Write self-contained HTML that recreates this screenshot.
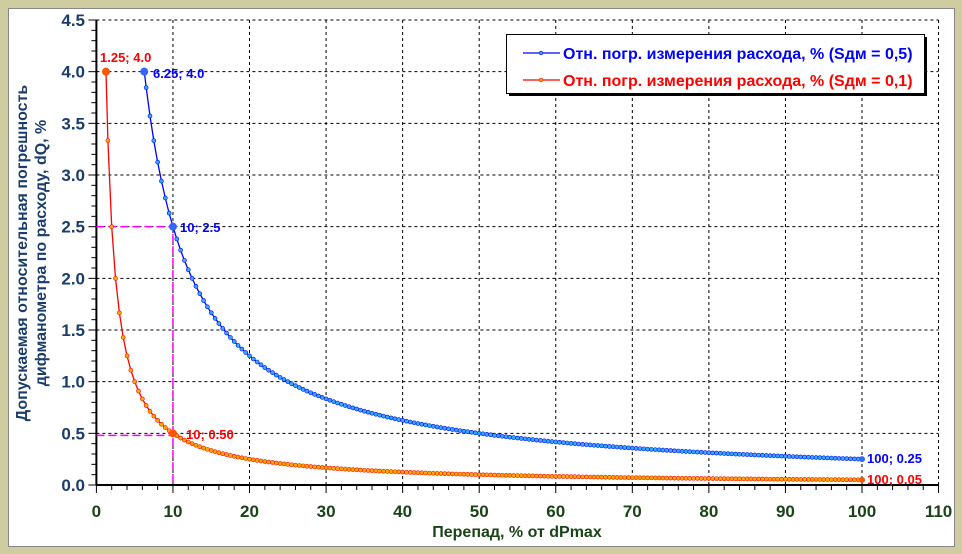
<!DOCTYPE html>
<html><head><meta charset="utf-8"><style>
html,body{margin:0;padding:0;background:#cfcd9f;}
svg{display:block;font-family:"Liberation Sans",Arial,sans-serif;font-weight:bold;}
</style></head><body>
<svg id="s" width="962" height="554" xmlns="http://www.w3.org/2000/svg"></svg>
<script>
const s=document.getElementById('s');
const X=v=>96.4+7.656*v, Y=v=>485-103.33*v;
let h='';
h+='<rect x="0" y="0" width="962" height="554" fill="#cfcd9f"/>';
h+='<rect x="8.5" y="8.5" width="946" height="538" fill="#fff" stroke="#888" stroke-width="1"/>';
for(let i=1;i<=11;i++){h+=`<line x1="${X(i*10)}" y1="${Y(4.5)}" x2="${X(i*10)}" y2="${Y(0)}" stroke="#000" stroke-dasharray="3,3" stroke-width="1"/>`;}
for(let j=1;j<=9;j++){h+=`<line x1="${X(0)}" y1="${Y(j*0.5)}" x2="${X(110)}" y2="${Y(j*0.5)}" stroke="#000" stroke-dasharray="3,3" stroke-width="1"/>`;}
h+=`<line x1="${X(0)}" y1="${Y(4.5)}" x2="${X(0)}" y2="${Y(0)}" stroke="#000" stroke-width="2"/>`;
h+=`<line x1="${X(0)}" y1="${Y(0)}" x2="${X(110)}" y2="${Y(0)}" stroke="#000" stroke-width="2"/>`;
for(let k=0;k<=45;k++){const l=k%5==0?8:5;h+=`<line x1="${X(0)-l}" y1="${Y(k/10)}" x2="${X(0)}" y2="${Y(k/10)}" stroke="#000"/>`;}
for(let k=0;k<=55;k++){const l=k%5==0?8:5;h+=`<line x1="${X(k*2)}" y1="${Y(0)}" x2="${X(k*2)}" y2="${Y(0)+l}" stroke="#000"/>`;}
for(let j=0;j<=9;j++){h+=`<text x="85" y="${Y(j*0.5)+6}" text-anchor="end" font-size="17" fill="#1b3d6b">${(j*0.5).toFixed(1)}</text>`;}
for(let i=0;i<=11;i++){h+=`<text x="${X(i*10)}" y="517" text-anchor="middle" font-size="17" fill="#1a4418">${i*10}</text>`;}
h+=`<text x="517" y="537" text-anchor="middle" font-size="16" fill="#1a4418">Перепад, % от dPmax</text>`;
h+=`<text transform="translate(27,253) rotate(-90)" text-anchor="middle" font-size="16" fill="#1b3d6b">Допускаемая относительная погрешность</text>`;
h+=`<text transform="translate(46,253) rotate(-90)" text-anchor="middle" font-size="16" fill="#1b3d6b">дифманометра по расходу, dQ, %</text>`;
h+=`<polyline points="${X(0)},${Y(2.5)} ${X(10)},${Y(2.5)} ${X(10)},${Y(0)}" fill="none" stroke="#f0f" stroke-width="1.5" stroke-dasharray="8,4"/>`;
h+=`<line x1="${X(0)}" y1="${Y(0.48)}" x2="${X(10)}" y2="${Y(0.48)}" stroke="#f0f" stroke-width="1.5" stroke-dasharray="8,4"/>`;
function curve(c,x0,col,mk){let xs=[x0];for(let v=Math.ceil((x0+0.2)*2)/2;v<=100;v+=0.5)xs.push(v);
 let p=xs.map(v=>X(v).toFixed(1)+','+Y(c/v).toFixed(1)).join(' ');
 h+=`<polyline points="${p}" fill="none" stroke="${col}" stroke-width="1.3"/>`;
 xs.forEach(v=>{h+=`<circle cx="${X(v)}" cy="${Y(c/v)}" r="2" fill="${mk}" stroke="${col}" stroke-width="0.6"/>`;});}
curve(5,1.25,'#f00','#fa0');
curve(25,6.25,'#00f','#3af');
h+=`<circle cx="${X(1.25)}" cy="${Y(4)}" r="4" fill="#f50"/><circle cx="${X(6.25)}" cy="${Y(4)}" r="4" fill="#36f"/>`;
h+=`<circle cx="${X(10)}" cy="${Y(2.5)}" r="4" fill="#36f"/><circle cx="${X(10)}" cy="${Y(0.5)}" r="4" fill="#f50"/>`;
h+=`<circle cx="${X(100)}" cy="${Y(0.25)}" r="3" fill="#36f"/><circle cx="${X(100)}" cy="${Y(0.05)}" r="3" fill="#f50"/>`;
h+=`<text x="100" y="62" font-size="13" fill="#f00">1.25; 4.0</text>`;
h+=`<text x="153" y="78" font-size="13" fill="#00f">6.25; 4.0</text>`;
h+=`<text x="180" y="232" font-size="13" fill="#00f">10; 2.5</text>`;
h+=`<text x="186" y="439" font-size="13" fill="#f00">10; 0.50</text>`;
h+=`<text x="867" y="463" font-size="13" fill="#00f">100; 0.25</text>`;
h+=`<text x="867" y="484" font-size="13" fill="#f00">100; 0.05</text>`;
h+=`<rect x="509" y="37" width="418" height="59" fill="#000"/>`;
h+=`<rect x="506.5" y="34.5" width="418" height="59" fill="#fff" stroke="#000"/>`;
h+=`<line x1="523" y1="53" x2="560" y2="53" stroke="#00f" stroke-width="1.3"/><circle cx="541" cy="53" r="1.8" fill="#3af" stroke="#00f" stroke-width="0.6"/>`;
h+=`<line x1="523" y1="80" x2="560" y2="80" stroke="#f00" stroke-width="1.3"/><circle cx="541" cy="80" r="1.8" fill="#fa0" stroke="#f00" stroke-width="0.6"/>`;
h+=`<text x="563" y="59" font-size="16" fill="#00f">Отн. погр. измерения расхода, % (Sдм = 0,5)</text>`;
h+=`<text x="563" y="86" font-size="16" fill="#f00">Отн. погр. измерения расхода, % (Sдм = 0,1)</text>`;
s.innerHTML=h;
</script>
</body></html>
